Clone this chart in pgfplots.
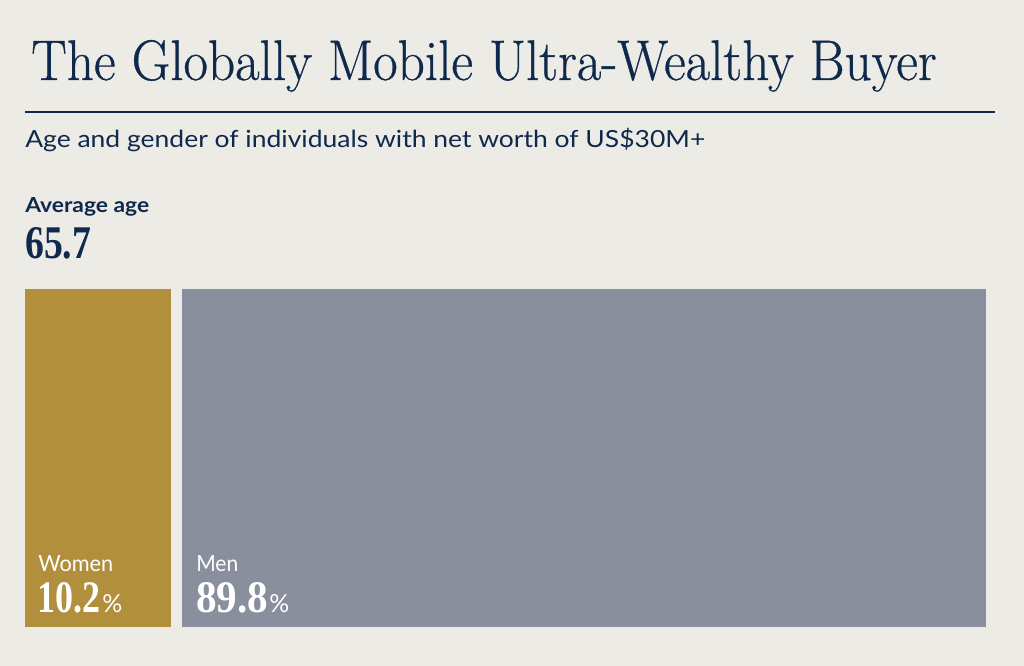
\documentclass[border=0pt]{standalone}
\usepackage{pgfplots}
\pgfplotsset{compat=1.18}
\usepackage{fontspec}
\newfontfamily\sansf{Lato}
\newfontfamily\seriff{Liberation Serif}
\newfontfamily\titlef[FakeBold=0.6]{Latin Modern Roman}
\definecolor{bg}{HTML}{EDEBE6}
\definecolor{navy}{HTML}{0F294C}
\definecolor{gold}{HTML}{B18F3D}
\definecolor{slate}{HTML}{8A8F9D}
\begin{document}
\begin{tikzpicture}[x=0.75pt,y=0.75pt]
\fill[bg] (0,0) rectangle (1024,666);
% title
\node[anchor=base west, inner sep=0, text=navy] at (31,586)
  {\resizebox{679pt}{30pt}{\titlef\fontsize{40}{40}\selectfont The Globally Mobile Ultra-Wealthy Buyer}};
\draw[navy, line width=0.8pt] (25,554) -- (995,554);
\node[anchor=base west, inner sep=0, text=navy] at (25,518)
  {\resizebox{510pt}{14.5pt}{\sansf\fontsize{20}{20}\selectfont Age and gender of individuals with net worth of US\$30M+}};
\node[anchor=base west, inner sep=0, text=navy] at (25,453)
  {\resizebox{93pt}{11.25pt}{\sansf\bfseries\fontsize{20}{20}\selectfont Average age}};
\node[anchor=base west, inner sep=0, text=navy] at (25,407)
  {\resizebox{49.5pt}{23.25pt}{\seriff\bfseries\fontsize{40}{40}\selectfont 65.7}};
% bars
\begin{axis}[at={(18.75pt,29.25pt)}, anchor=south west, scale only axis,
  width=720.75pt, height=253.5pt, hide axis,
  xmin=0, xmax=961, ymin=0, ymax=1]
\addplot[fill=gold, draw=none] coordinates {(0,0) (146,0) (146,1) (0,1)} --cycle;
\addplot[fill=slate, draw=none] coordinates {(157,0) (961,0) (961,1) (157,1)} --cycle;
\end{axis}
% labels
\node[anchor=base west, inner sep=0, text=white] at (38,94)
  {\resizebox{56.25pt}{12pt}{\sansf\fontsize{20}{20}\selectfont Women}};
\node[anchor=base west, inner sep=0, text=white] at (37,53)
  {\resizebox{47.25pt}{22.5pt}{\seriff\bfseries\fontsize{40}{40}\selectfont 10.2}};
\node[anchor=base west, inner sep=0, text=white] at (102,53)
  {\resizebox{15pt}{13.5pt}{\sansf\fontsize{20}{20}\selectfont \%}};
\node[anchor=base west, inner sep=0, text=white] at (196,94)
  {\resizebox{31.5pt}{12pt}{\sansf\fontsize{20}{20}\selectfont Men}};
\node[anchor=base west, inner sep=0, text=white] at (196,53)
  {\resizebox{54pt}{22.5pt}{\seriff\bfseries\fontsize{40}{40}\selectfont 89.8}};
\node[anchor=base west, inner sep=0, text=white] at (269,53)
  {\resizebox{15pt}{13.5pt}{\sansf\fontsize{20}{20}\selectfont \%}};
\end{tikzpicture}
\end{document}
